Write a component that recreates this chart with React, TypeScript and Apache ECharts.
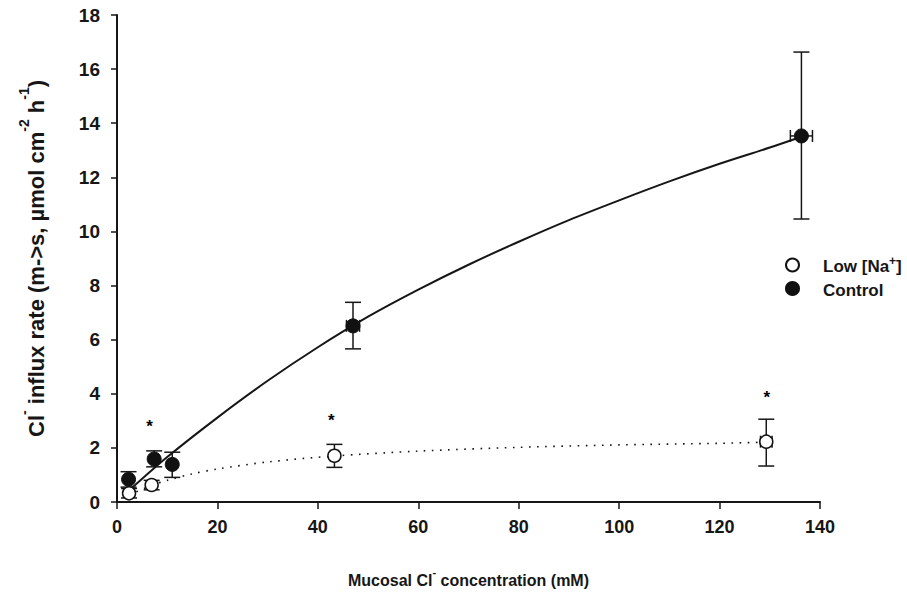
import React, { useEffect, useRef } from "react";
import * as echarts from "echarts";

// Measured data points
const controlX = [2.3, 7.4, 11.0, 47.0, 136.3];
const controlY = [0.84, 1.59, 1.39, 6.51, 13.53];
const controlErrLow = [0.55, 1.3, 0.91, 5.66, 10.46];
const controlErrHigh = [1.12, 1.89, 1.84, 7.38, 16.63];
const controlXErr = [0, 0, 0, 1.3, 2.2];

const lowX = [2.4, 6.9, 43.3, 129.3];
const lowY = [0.32, 0.63, 1.71, 2.23];
const lowErrLow = [0.15, 0.45, 1.28, 1.33];
const lowErrHigh = [0.5, 0.8, 2.13, 3.06];
const lowXErr = [0, 0, 0.8, 1.15];

// Fitted curves
const curveControlX = [2.5, 10, 20, 30, 40, 50, 60, 70, 80, 90, 100, 110, 120, 130, 136.3];
const curveControlY = [0.44, 1.66, 3.12, 4.48, 5.72, 6.85, 7.85, 8.77, 9.62, 10.42, 11.15, 11.85, 12.5, 13.1, 13.5];
const curveLowX = [2.4, 7, 10, 15, 20, 30, 43.3, 60, 80, 100, 120, 129.3];
const curveLowY = [0.26, 0.62, 0.8, 1.04, 1.22, 1.48, 1.7, 1.88, 2.02, 2.11, 2.17, 2.21];

// Significance marks
const starX = [6.5, 42.7, 129.4];
const starY = [2.95, 3.15, 4.02];

const FONT = "'Liberation Sans', Arial, Helvetica, sans-serif";
const INK = "#161616";
const MARK = "#111111";

export default function App() {
  const ref = useRef<HTMLDivElement>(null);

  useEffect(() => {
    if (!ref.current) return;
    const chart = echarts.init(ref.current, undefined, { renderer: "svg" });

    const errData = (xs: number[], ys: number[], lo: number[], hi: number[], xe: number[]) =>
      xs.map((x, i) => [x, ys[i], lo[i], hi[i], x - xe[i], x + xe[i]]);

    const errRender = (params: any, api: any) => {
      const x = api.value(0);
      const y = api.value(1);
      const ylo = api.value(2);
      const yhi = api.value(3);
      const xlo = api.value(4);
      const xhi = api.value(5);
      const pT = api.coord([x, yhi]);
      const pB = api.coord([x, ylo]);
      const cap = 8;
      const st = { stroke: INK, lineWidth: 1.5 };
      const children: any[] = [
        { type: "line", shape: { x1: pT[0], y1: pT[1], x2: pB[0], y2: pB[1] }, style: st },
        { type: "line", shape: { x1: pT[0] - cap, y1: pT[1], x2: pT[0] + cap, y2: pT[1] }, style: st },
        { type: "line", shape: { x1: pB[0] - cap, y1: pB[1], x2: pB[0] + cap, y2: pB[1] }, style: st },
      ];
      if (xhi > xlo) {
        const pL = api.coord([xlo, y]);
        const pR = api.coord([xhi, y]);
        const hc = 6;
        children.push(
          { type: "line", shape: { x1: pL[0], y1: pL[1], x2: pR[0], y2: pR[1] }, style: st },
          { type: "line", shape: { x1: pL[0], y1: pL[1] - hc, x2: pL[0], y2: pL[1] + hc }, style: st },
          { type: "line", shape: { x1: pR[0], y1: pR[1] - hc, x2: pR[0], y2: pR[1] + hc }, style: st }
        );
      }
      return { type: "group", children };
    };

    const option: any = {
      animation: false,
      backgroundColor: "#ffffff",
      textStyle: { fontFamily: FONT },
      grid: { left: 117, right: 87, top: 15, bottom: 92, containLabel: false },
      legend: {
        orient: "vertical",
        left: 780,
        top: 250,
        itemWidth: 13,
        itemHeight: 13,
        itemGap: 6,
        icon: "circle",
        data: ["Low", "Control"],
        formatter: (name: string) =>
          name === "Low" ? "{a|Low [Na}{s|+}{a|]}" : "{a|Control}",
        textStyle: {
          padding: [0, 0, 0, 19],
          rich: {
            a: { fontFamily: FONT, fontWeight: "bold", fontSize: 17, color: INK, verticalAlign: "bottom", lineHeight: 20 },
            s: { fontFamily: FONT, fontWeight: "bold", fontSize: 12, color: INK, verticalAlign: "top", lineHeight: 20 },
          },
        },
      },
      xAxis: {
        type: "value",
        min: 0,
        max: 140,
        interval: 20,
        splitLine: { show: false },
        axisLine: { show: true, onZero: false, lineStyle: { color: INK, width: 2 } },
        axisTick: { show: true, length: 7, inside: false, lineStyle: { color: INK, width: 1.5 } },
        axisLabel: { margin: 16, fontFamily: FONT, fontWeight: "bold", fontSize: 18, color: INK },
        name: "{n|Mucosal Cl}{s|-}{n| concentration (mM)}",
        nameLocation: "middle",
        nameGap: 64,
        nameTextStyle: {
          rich: {
            n: { fontFamily: FONT, fontWeight: "bold", fontSize: 16, color: INK, verticalAlign: "bottom", lineHeight: 22 },
            s: { fontFamily: FONT, fontWeight: "bold", fontSize: 11, color: INK, verticalAlign: "top", lineHeight: 22 },
          },
        },
      },
      yAxis: {
        type: "value",
        min: 0,
        max: 18,
        interval: 2,
        splitLine: { show: false },
        axisLine: { show: true, onZero: false, lineStyle: { color: INK, width: 2 } },
        axisTick: { show: true, length: 6, inside: false, lineStyle: { color: INK, width: 1.5 } },
        axisLabel: { margin: 17, fontFamily: FONT, fontWeight: "bold", fontSize: 19, color: INK },
        name: "{n|Cl}{s|-}{n| influx rate (m->s, \u00b5mol cm}{s|-2}{n| h}{s|-1}{n|)}",
        nameLocation: "middle",
        nameRotate: 90,
        nameGap: 70,
        nameTextStyle: {
          rich: {
            n: { fontFamily: FONT, fontWeight: "bold", fontSize: 22, color: INK, verticalAlign: "bottom", lineHeight: 30 },
            s: { fontFamily: FONT, fontWeight: "bold", fontSize: 14, color: INK, verticalAlign: "top", lineHeight: 30 },
          },
        },
      },
      series: [
        {
          name: "controlFit",
          type: "line",
          data: curveControlX.map((x, i) => [x, curveControlY[i]]),
          showSymbol: false,
          smooth: 0.3,
          lineStyle: { color: INK, width: 2, type: "solid" },
          z: 1,
          silent: true,
        },
        {
          name: "lowFit",
          type: "line",
          data: curveLowX.map((x, i) => [x, curveLowY[i]]),
          showSymbol: false,
          smooth: 0.3,
          lineStyle: { color: INK, width: 1.6, type: [1.6, 6.5] },
          z: 1,
          silent: true,
        },
        {
          name: "controlErr",
          type: "custom",
          renderItem: errRender,
          data: errData(controlX, controlY, controlErrLow, controlErrHigh, controlXErr),
          z: 2,
          silent: true,
        },
        {
          name: "lowErr",
          type: "custom",
          renderItem: errRender,
          data: errData(lowX, lowY, lowErrLow, lowErrHigh, lowXErr),
          z: 2,
          silent: true,
        },
        {
          name: "Low",
          type: "scatter",
          symbol: "circle",
          symbolSize: 13,
          data: lowX.map((x, i) => [x, lowY[i]]),
          itemStyle: { color: "#ffffff", borderColor: MARK, borderWidth: 1.5, opacity: 1 },
          z: 5,
        },
        {
          name: "Control",
          type: "scatter",
          symbol: "circle",
          symbolSize: 14,
          data: controlX.map((x, i) => [x, controlY[i]]),
          itemStyle: { color: MARK, borderColor: MARK, borderWidth: 1, opacity: 1 },
          z: 5,
        },
        {
          name: "stars",
          type: "scatter",
          symbolSize: 1,
          itemStyle: { color: "rgba(0,0,0,0)", opacity: 1 },
          data: starX.map((x, i) => [x, starY[i]]),
          label: {
            show: true,
            position: "inside",
            formatter: "*",
            fontFamily: FONT,
            fontWeight: "bold",
            fontSize: 17,
            color: "#000",
            opacity: 1,
            offset: [0, 4],
          },
          z: 6,
          silent: true,
        },
      ],
    };

    chart.setOption(option);
    return () => chart.dispose();
  }, []);

  return (
    <div
      ref={ref}
      style={{ position: "absolute", left: 0, top: 0, width: 907, height: 594, background: "#fff" }}
    />
  );
}
